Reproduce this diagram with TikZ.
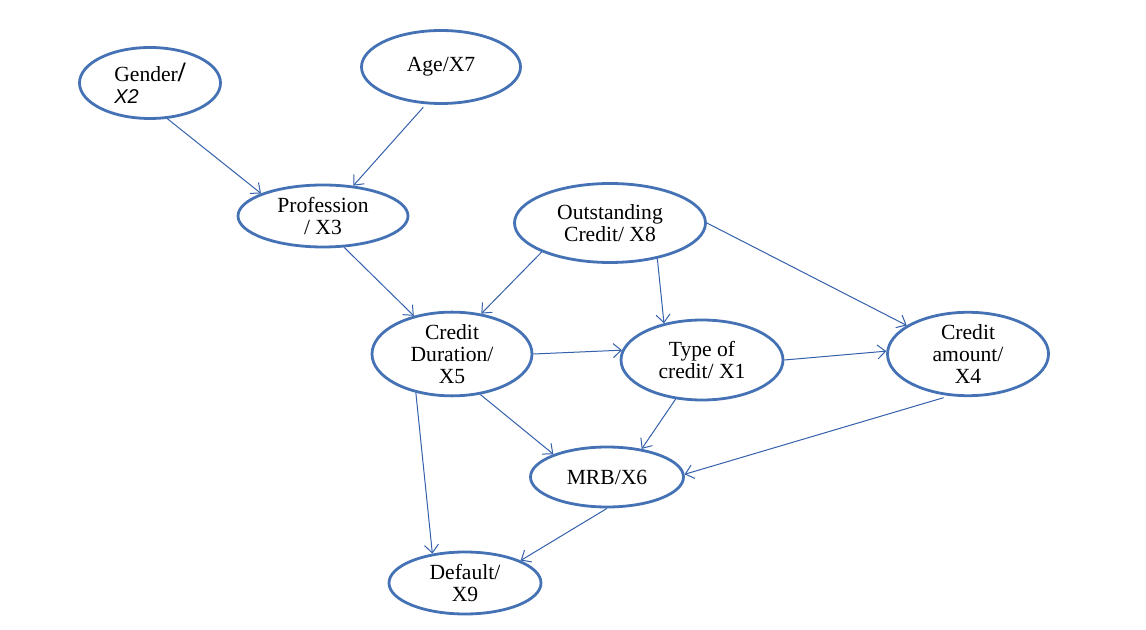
\documentclass[tikz,border=0pt]{standalone}
\usepackage{fontspec}
\setmainfont{Liberation Serif}
\newfontfamily\arialfont{Liberation Sans}
\usepackage{tikz}
\usetikzlibrary{
  arrows.meta,
  shapes.geometric
}
\definecolor{nodeblue}{RGB}{68,114,180}
\definecolor{edgeblue}{RGB}{52,96,172}
\tikzset{
  varnode/.style={
    ellipse,
    draw=nodeblue,
    line width=1.4pt,
    inner sep=0pt,
    align=center,
    font=\fontsize{10.8}{11}\selectfont
  },
  depedge/.style={-{Straight Barb[length=4pt,width=7pt]},draw=edgeblue,line width=0.5pt},
}

\begin{document}
\begin{tikzpicture}[x=0.5pt,y=-0.5pt]
  \useasboundingbox (0,0) rectangle (1146,630);
  % Variables
  \node[varnode,align=left,minimum width=70.5pt,minimum height=35.5pt] (gender) at (150,83)
    {Gender{\fontsize{14}{14}\selectfont\bfseries /}\hspace{3pt}\\{\fontsize{10}{11}\arialfont\itshape X2}};
  \node[varnode,minimum width=79.5pt,minimum height=36.5pt] (age) at (441,67) {Age/X7};
  \node[varnode,minimum width=85pt,minimum height=31pt] (prof) at (323,216) {Profession\\/ X3};
  \node[varnode,minimum width=95.5pt,minimum height=39.5pt] (outst) at (610,223) {Outstanding\\Credit/ X8};
  \node[varnode,minimum width=80pt,minimum height=37.5pt] (dur) at (452,354) {Credit\\Duration/\\X5};
  \node[varnode,minimum width=81pt,minimum height=40pt] (type) at (702,360) {Type of\\credit/ X1};
  \node[varnode,minimum width=80.5pt,minimum height=38.5pt] (amount) at (968,354) {Credit\\amount/\\X4};
  \node[varnode,minimum width=76.5pt,minimum height=30pt] (mrb) at (607,477) {MRB/X6};
  \node[varnode,minimum width=76pt,minimum height=31pt] (default) at (465,583) {Default/\\X9};

  % Dependencies
  \draw[depedge] (gender.-64) -- (prof.160);
  \draw[depedge,shorten <=2pt] (age.248) -- (prof.45);
  \draw[depedge] (prof.-56) -- (dur.135);
  \draw[depedge] (outst.203) -- (dur.54);
  \draw[depedge] (outst.-37) -- (type.136);
  \draw[depedge] (outst.east) -- (amount.155);
  \draw[depedge] (dur.east) -- (type.173);
  \draw[depedge] (type.east) -- (amount.178);
  \draw[depedge] (dur.-55) -- (mrb.157);
  \draw[depedge] (type.236) -- (mrb.39);
  \draw[depedge,shorten <=3pt] (amount.246) -- (mrb.2);
  \draw[depedge] (dur.227) -- (default.138);
  \draw[depedge] (mrb.south) -- (default.22);
\end{tikzpicture}
\end{document}
